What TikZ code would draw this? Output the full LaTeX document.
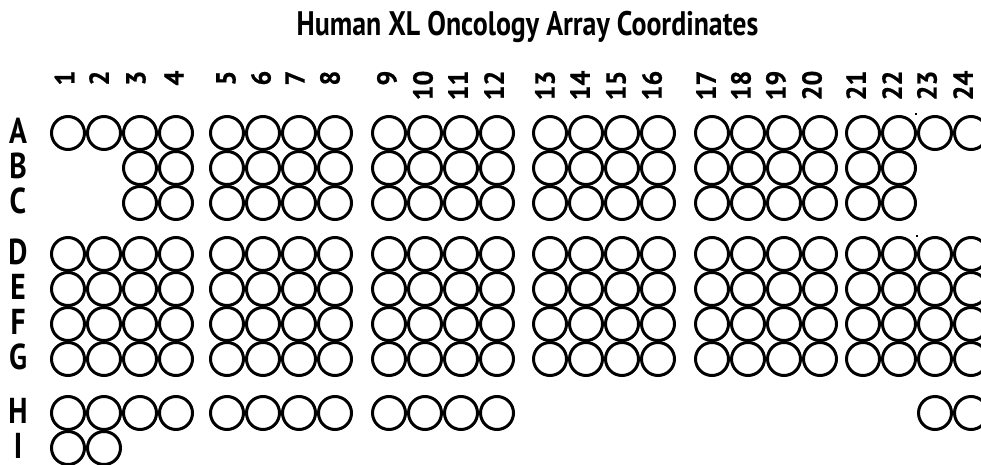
\documentclass[tikz,border=0pt]{standalone}
\usepackage{fontspec}
\setmainfont[FakeStretch=0.82]{PT Sans}
\newfontfamily\digitfont[FakeStretch=0.95,FakeBold=0.6]{PT Sans Bold}
\begin{document}
\begin{tikzpicture}[x=1pt,y=-1pt,
  well/.style={circle,draw,line width=3pt,minimum size=33pt,inner sep=0pt},
  rowlab/.style={font=\bfseries\fontsize{36}{36}\selectfont,anchor=base,inner sep=0pt},
  collab/.style={font=\digitfont\fontsize{27.5}{27.5}\selectfont,rotate=90,anchor=east,inner sep=0pt},
  titlelab/.style={font=\bfseries\fontsize{34}{34}\selectfont,anchor=base,inner sep=0pt},
  speck/.style={fill=black}]
\useasboundingbox (0,0) rectangle (981,465);
\def\colx{{0,68,104,140,176,227,263,299,335,389,425,461,497,550,586,622,658,712,748,784,820,863,899,935,971}}
\def\labx{{0,64.5,99,136,174,226,261,295,330,387,423,458,494,545,580,616,652,706,741,776,812,856,892,927,963}}
\node[titlelab] (title) at (527.5,35.7) {Human XL Oncology Array Coordinates};
\foreach \c in {1,...,24}{
  \pgfmathsetmacro\cx{\labx[\c]}
  \node[collab] (col\c) at (\cx,70.5) {\c};
}
\foreach \r/\y/\cols in {A/133/{1,...,24},B/168/{3,...,22},C/203/{3,...,22},D/254/{1,...,24},E/289/{1,...,24},F/324/{1,...,24},G/359/{1,...,24},H/413/{1,...,12,23,24},I/448/{1,2}}{
  \node[rowlab] (row\r) at (18,\y+10.3) {\r};
  \foreach \c in \cols{
    \pgfmathsetmacro\cx{\colx[\c]}
    \node[well] (\r\c) at (\cx,\y) {};
  }
}
\fill[speck] (915,113) rectangle (917,115);
\fill[speck] (915.5,234.5) rectangle (917.5,236.5);
\end{tikzpicture}
\end{document}
